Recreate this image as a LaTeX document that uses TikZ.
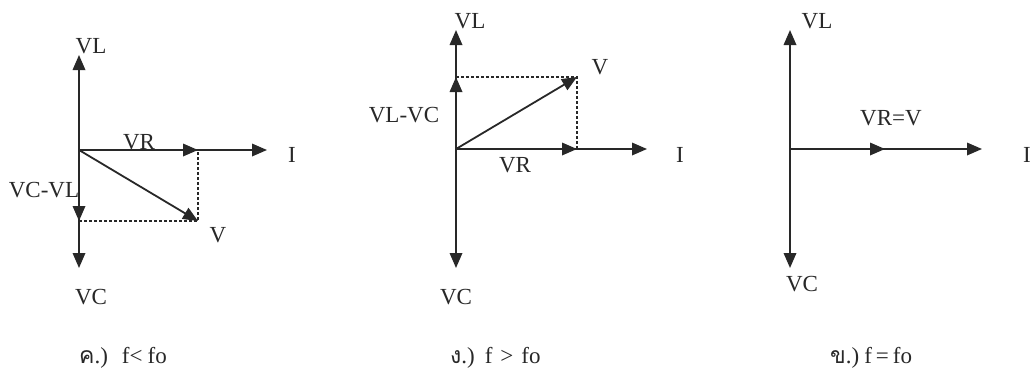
\documentclass[tikz,border=0pt]{standalone}
\usepackage{fontspec}
\setmainfont{Liberation Serif}
\newfontfamily\thaifont[Script=Thai]{Loma}
\usetikzlibrary{arrows.meta}
\definecolor{ink}{RGB}{40,40,40}
\begin{document}
\begin{tikzpicture}[x=1pt,y=-1pt,
  vec/.style={draw=ink,line width=1.8pt,-{Triangle[length=15pt,width=12.5pt]}},
  guide/.style={draw=ink,line width=1.3pt,dash pattern=on 3pt off 2pt},
  lbl/.style={text=ink,font=\fontsize{23}{26}\selectfont,inner sep=0pt},
  captext/.style={text=ink,font=\fontsize{23}{26}\selectfont,inner sep=0pt,anchor=base west}]
\fill[white] (0,0) rectangle (1033,373);
\useasboundingbox (0,0) rectangle (1033,373);

% ---------- diagram 1 : f < fo ----------
\coordinate (O1) at (79,150);
\coordinate (VL1) at (79,55);
\coordinate (VC1) at (79,268);
\coordinate (D1) at (79,221);
\coordinate (R1) at (198,150);
\coordinate (I1) at (267,150);
\coordinate (V1) at (198,221);
\draw[guide] (D1) -- (V1) -- (R1);
\draw[vec] (O1) -- (VL1);
\draw[vec] (O1) -- (VC1);
\draw[vec] (O1) -- (D1);
\draw[vec] (O1) -- (I1);
\draw[vec] (O1) -- (R1);
\draw[vec] (O1) -- (V1);
\node[lbl] (tVL1) at (91,46) {VL};
\node[lbl] (tVC1) at (91,297) {VC};
\node[lbl] (tVR1) at (139,142) {VR};
\node[lbl] (tI1) at (292,155) {I};
\node[lbl] (tVCVL1) at (44,190) {VC-VL};
\node[lbl] (tV1) at (218,235) {V};

% ---------- diagram 2 : f > fo ----------
\coordinate (O2) at (456,149);
\coordinate (VL2) at (456,30);
\coordinate (VC2) at (456,268);
\coordinate (D2) at (456,77);
\coordinate (R2) at (577,149);
\coordinate (I2) at (647,149);
\coordinate (V2) at (577,77);
\draw[guide] (D2) -- (V2) -- (R2);
\draw[vec] (O2) -- (VL2);
\draw[vec] (O2) -- (VC2);
\draw[vec] (O2) -- (D2);
\draw[vec] (O2) -- (I2);
\draw[vec] (O2) -- (R2);
\draw[vec] (O2) -- (V2);
\node[lbl] (tVL2) at (470,21) {VL};
\node[lbl] (tVC2) at (456,297) {VC};
\node[lbl] (tVLVC2) at (404,115) {VL-VC};
\node[lbl] (tVR2) at (515,165) {VR};
\node[lbl] (tI2) at (680,155) {I};
\node[lbl] (tV2) at (600,67) {V};

% ---------- diagram 3 : f = fo ----------
\coordinate (O3) at (790,149);
\coordinate (VL3) at (790,30);
\coordinate (VC3) at (790,268);
\coordinate (R3) at (885,149);
\coordinate (I3) at (982,149);
\draw[vec] (O3) -- (VL3);
\draw[vec] (O3) -- (VC3);
\draw[vec] (O3) -- (I3);
\draw[vec] (O3) -- (R3);
\node[lbl] (tVL3) at (817,21) {VL};
\node[lbl] (tVC3) at (802,284) {VC};
\node[lbl] (tVR3) at (891,118) {VR=V};
\node[lbl] (tI3) at (1027,155) {I};

% ---------- captions ----------
\node[captext] (c1) at (79,363) {{\thaifont ค}.)\hspace{14pt}f<\hspace{5pt}fo};
\node[captext] (c2) at (450,363) {{\thaifont ง}.)\hspace{10pt}f\hspace{8pt}>\hspace{8pt}fo};
\node[captext] (c3) at (830,363) {{\thaifont ข}.)\hspace{5pt}f\hspace{4pt}=\hspace{4pt}fo};
\end{tikzpicture}
\end{document}
